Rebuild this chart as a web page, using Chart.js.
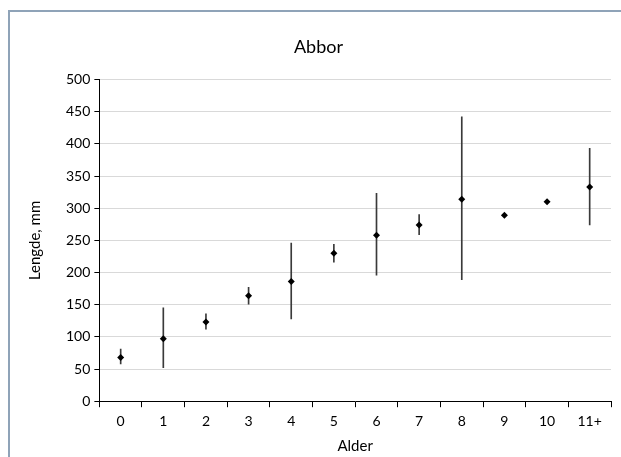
<!DOCTYPE html>
<html>
<head>
<meta charset="utf-8">
<script src="https://cdn.jsdelivr.net/npm/chart.js@4"></script>
<style>
  html, body { margin: 0; padding: 0; background: #fff; overflow: hidden; }
  #frame { position: absolute; left: 8px; top: 10px; width: 640px; height: 480px; border: 2px solid #8fa3b8; box-sizing: border-box; }
  #wrap { position: absolute; left: 0; top: 0; width: 621px; height: 457px; }
</style>
</head>
<body>
<div id="frame"></div>
<div id="wrap"><canvas id="chart"></canvas></div>
<script>
const ages = ['0', '1', '2', '3', '4', '5', '6', '7', '8', '9', '10', '11+'];
const meanLength = [68, 97, 123, 164, 186, 230, 258, 274, 314, 289, 310, 333];
const minLength = [58, 52, 112, 151, 128, 216, 196, 259, 189, 289, 310, 274];
const maxLength = [81, 145, 136, 177, 246, 244, 323, 290, 442, 289, 310, 393];

const font = 'Lato, "Open Sans", sans-serif';

new Chart(document.getElementById('chart'), {
    data: {
        labels: ages,
        datasets: [
            {
                type: 'line',
                data: meanLength,
                showLine: false,
                pointStyle: 'rectRot',
                pointRadius: 3.5,
                pointBackgroundColor: '#000',
                pointBorderColor: '#000',
                pointBorderWidth: 0,
                order: 0
            },
            {
                type: 'bar',
                data: ages.map((a, i) => [minLength[i], maxLength[i]]),
                backgroundColor: '#3a3a3a',
                barThickness: 1,
                borderWidth: 0,
                order: 1
            }
        ]
    },
    options: {
        responsive: true,
        maintainAspectRatio: false,
        animation: false,
        layout: { padding: { left: 26, right: 10, top: 0, bottom: 2 } },
        scales: {
            x: {
                offset: true,
                grid: { display: true, drawOnChartArea: false, offset: true, color: '#000', tickLength: 6 },
                border: { color: '#000', width: 1 },
                ticks: { color: '#000', font: { family: font, size: 14 }, padding: 6 },
                title: { display: true, text: 'Alder', color: '#000', font: { family: font, size: 15 }, padding: { top: 1, bottom: 0 } }
            },
            y: {
                min: 0, max: 500,
                ticks: { stepSize: 50, color: '#000', font: { family: font, size: 14 }, padding: 4 },
                grid: { color: '#d9d9d9', tickColor: '#000', tickLength: 5, lineWidth: 1 },
                border: { color: '#000', width: 1 },
                title: { display: true, text: 'Lengde, mm', color: '#000', font: { family: font, size: 15 }, padding: { top: 0, bottom: 18 } }
            }
        },
        plugins: {
            legend: { display: false },
            tooltip: { enabled: false },
            title: { display: true, text: 'Abbor', color: '#000', font: { family: font, size: 18, weight: 'normal' }, padding: { top: 36, bottom: 22 } }
        }
    }
});
</script>
</body>
</html>
